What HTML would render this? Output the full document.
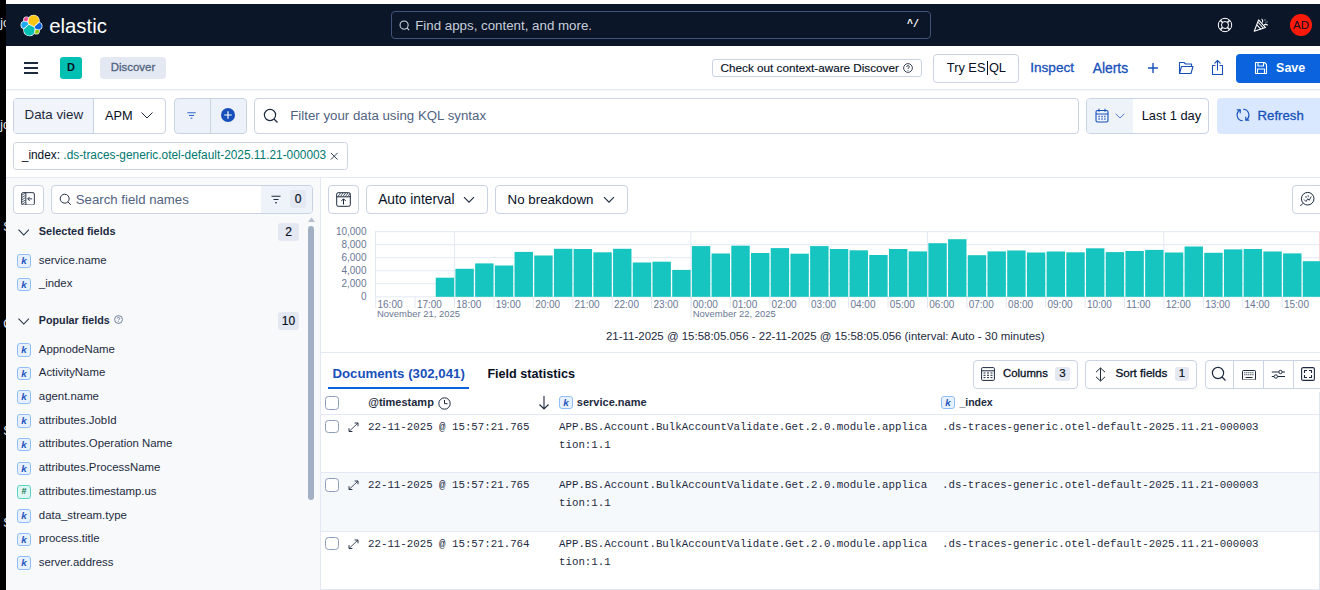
<!DOCTYPE html>
<html>
<head>
<meta charset="utf-8">
<title>Discover - Elastic</title>
<style>
*{box-sizing:border-box;margin:0;padding:0}
html,body{width:1320px;height:590px;overflow:hidden;background:#fff}
body{font-family:"Liberation Sans",sans-serif;color:#1d2a3e;font-size:14px;position:relative}
.abs{position:absolute}
.t{position:absolute;white-space:nowrap;line-height:1}
.box{position:absolute;border:1px solid #cad3e2;border-radius:4px;background:#fff}
.blue{color:#1750ba}
.mono{font-family:"Liberation Mono",monospace;font-size:10.78px;color:#1d2a3e}
.tok{position:absolute;width:14px;height:13.500px;border:1px solid #8fbdf7;border-radius:3px;background:#e8f1ff;color:#2458bd;font-size:9.800px;font-weight:700;font-style:italic;text-align:center;line-height:11px;font-family:"Liberation Sans",sans-serif}
.tok.num{border-color:#5fd1c2;background:#e0f8f4;color:#09724d;font-style:normal;font-family:"Liberation Sans",sans-serif;font-size:9px}
.fld{position:absolute;left:38.800px;font-size:11.400px;color:#1d2a3e;white-space:nowrap;line-height:1}
.badge{position:absolute;background:#e3e8f2;border-radius:3px;font-size:12px;font-weight:400;-webkit-text-stroke:.2px #07101f;color:#07101f;text-align:center}
.cb{position:absolute;width:13.600px;height:13.600px;border:1px solid #8e9db8;border-radius:3.500px;background:#fff}
</style>
</head>
<body>
<!-- frame artefacts -->
<div class="abs" style="left:0;top:0;width:6px;height:590px;background:#000;overflow:hidden;color:#e8f0ff;font-size:12px;line-height:14px">
<div class="t" style="left:.3px;top:16px;line-height:14px">jo</div>
<div class="t" style="left:.3px;top:118px;line-height:14px">jo</div>
<div class="t" style="left:3.300px;top:220px;line-height:14px">S</div>
<div class="t" style="left:3.300px;top:317px;line-height:14px">C</div>
<div class="t" style="left:3.300px;top:424px;line-height:14px">S</div>
<div class="t" style="left:3.300px;top:516px;line-height:14px">S</div>
</div>

<!-- ===== dark header ===== -->
<div class="abs" id="hdr" style="left:6px;top:4px;width:1314px;height:42px;background:#0b1628"></div>
<svg class="abs" style="left:19.500px;top:13.500px" width="23" height="23" viewBox="-0.5 -0.5 33 33">
  <g stroke="#fff" stroke-width="2" stroke-linejoin="round" fill="#fff">
  <path d="M12.580 13.787l7.002 3.211 7.066-6.213a7.849 7.849 0 0 0 .152-1.557c0-4.287-3.467-7.764-7.744-7.764a7.720 7.720 0 0 0-6.400 3.404l-1.176 6.120 1.100 2.799z"/>
  <path d="M5.333 21.228A7.964 7.964 0 0 0 5.181 22.800c0 4.300 3.483 7.786 7.780 7.786 2.580 0 4.987-1.282 6.437-3.418l1.166-6.100-1.556-2.987-7.030-3.216-6.645 6.363z"/>
  <path d="M5.288 9.067l4.800 1.137L11.140 4.740a3.785 3.785 0 0 0-2.290-.770 3.797 3.797 0 0 0-3.560 5.097"/>
  <path d="M4.872 10.214C2.728 10.926 1.230 12.990 1.230 15.260a5.345 5.345 0 0 0 3.400 4.970l6.733-6.110-1.236-2.653-5.255-1.253z"/>
  <path d="M20.873 27.277a3.736 3.736 0 0 0 2.285.785 3.783 3.783 0 0 0 3.553-5.096l-4.796-1.125-1.042 5.436z"/>
  <path d="M21.848 20.563l5.280 1.238c2.145-.712 3.643-2.776 3.643-5.047a5.338 5.338 0 0 0-3.410-4.970l-6.906 6.072 1.393 2.707z"/>
  </g>
  <path fill="#FEC514" d="M12.580 13.787l7.002 3.211 7.066-6.213a7.849 7.849 0 0 0 .152-1.557c0-4.287-3.467-7.764-7.744-7.764a7.720 7.720 0 0 0-6.400 3.404l-1.176 6.120 1.100 2.799z"/>
  <path fill="#00BFB3" d="M5.333 21.228A7.964 7.964 0 0 0 5.181 22.800c0 4.300 3.483 7.786 7.780 7.786 2.580 0 4.987-1.282 6.437-3.418l1.166-6.100-1.556-2.987-7.030-3.216-6.645 6.363z"/>
  <path fill="#F04E98" d="M5.288 9.067l4.800 1.137L11.140 4.740a3.785 3.785 0 0 0-2.290-.770 3.797 3.797 0 0 0-3.560 5.097"/>
  <path fill="#1BA9F5" d="M4.872 10.214C2.728 10.926 1.230 12.990 1.230 15.260a5.345 5.345 0 0 0 3.400 4.970l6.733-6.110-1.236-2.653-5.255-1.253z"/>
  <path fill="#93C90E" d="M20.873 27.277a3.736 3.736 0 0 0 2.285.785 3.783 3.783 0 0 0 3.553-5.096l-4.796-1.125-1.042 5.436z"/>
  <path fill="#0B64DD" d="M21.848 20.563l5.280 1.238c2.145-.712 3.643-2.776 3.643-5.047a5.338 5.338 0 0 0-3.410-4.970l-6.906 6.072 1.393 2.707z"/>
</svg>
<div class="t" id="elastic" style="left:49.2px;top:14px;font-size:20.33px;color:#fff;line-height:24px">elastic</div>

<div class="abs" style="left:391px;top:11px;width:540px;height:27.500px;border:1px solid #40527a;border-radius:4px;background:#0b1628"></div>
<svg class="abs" style="left:398px;top:19px" width="13" height="13" viewBox="0 0 16 16" fill="none" stroke="#d5dbe6" stroke-width="1.300"><circle cx="7.500" cy="7.500" r="5"/><path d="M11.300 11.300l2.400 2.400"/></svg>
<div class="t" id="find" style="left:415.2px;top:18px;font-size:13.32px;color:#c8cfdb;line-height:16px">Find apps, content, and more.</div>
<div class="t" style="left:907px;top:19px;font-size:10px;color:#fff;font-weight:700;line-height:12px;font-family:'Liberation Mono',monospace;letter-spacing:0px">^/</div>

<!-- help -->
<svg class="abs" style="left:1217.200px;top:17px" width="16" height="16" viewBox="0 0 16 16" fill="none" stroke="#fff" stroke-width="1"><circle cx="8" cy="8" r="6.700"/><circle cx="8" cy="8" r="3.500"/><path d="M3.300 3.300l2.200 2.200M10.500 10.500l2.200 2.200M12.700 3.300l-2.200 2.200M5.500 10.500l-2.200 2.200" stroke-width="1.600"/></svg>
<!-- party -->
<svg class="abs" style="left:1253px;top:17px" width="16" height="16" viewBox="0 0 16 16" fill="none" stroke="#fff" stroke-width="1.100" stroke-linejoin="round"><path d="M1.200 14.200L5.600 2.900l6.900 7.700z"/><path d="M3.700 7.800l4.400 4.500M4.800 5l5.500 6"/><path d="M9.500 5.500c.6-1.600.2-2.800-.9-3.600M11 8c1.500-.9 2.800-.7 3.700.4"/><path d="M12 2.500v1M14 4.500v.8M12.500 5.800h.6" stroke-width="1"/></svg>
<!-- avatar -->
<div class="abs" style="left:1290px;top:14px;width:22px;height:22px;border-radius:11px;background:#ff1a0a"></div>
<div class="t" style="left:1290px;top:19px;width:22px;text-align:center;font-size:11.500px;color:#07101f;line-height:12px">AD</div>

<!-- ===== app toolbar row ===== -->
<div class="abs" style="left:6px;top:89px;width:1314px;height:1px;background:#e6eaf2"></div>
<div class="abs" style="left:6px;top:90px;width:1314px;height:1px;background:#f4f6fa"></div>
<div class="abs" style="left:24px;top:62.3px;width:14px;height:1.500px;background:#1d2a3e"></div>
<div class="abs" style="left:24px;top:67.3px;width:14px;height:1.500px;background:#1d2a3e"></div>
<div class="abs" style="left:24px;top:72.3px;width:14px;height:1.500px;background:#1d2a3e"></div>
<div class="abs" style="left:60px;top:57px;width:22px;height:22px;border-radius:3px;background:#00bfb3"></div>
<div class="t" style="left:60px;top:61px;width:22px;text-align:center;font-size:11px;color:#07101f;line-height:12px;font-weight:700">D</div>
<div class="abs" style="left:100px;top:57px;width:66px;height:22px;border-radius:4px;background:#e3e8f2"></div>
<div class="t" id="discover" style="left:100px;top:60px;width:66px;text-align:center;font-size:11.47px;color:#516381;line-height:14px;font-weight:500;-webkit-text-stroke:.3px #516381">Discover</div>

<div class="box" style="left:712px;top:59px;width:210px;height:18px;border-radius:3px;border-color:#cad3e2"></div>
<div class="t" id="ctx" style="left:720.6px;top:61px;font-size:11.71px;color:#07101f;line-height:14px;font-weight:500;-webkit-text-stroke:.15px #07101f">Check out context-aware Discover</div>
<svg class="abs" style="left:903px;top:63px" width="10" height="10" viewBox="0 0 16 16" fill="none" stroke="#1d2a3e" stroke-width="1.400"><circle cx="8" cy="8" r="7"/><path d="M5.800 6.300c0-1.300 1-2.100 2.200-2.100s2.200.8 2.200 2c0 1.700-2.200 1.700-2.200 3.300M8 11.300v1.200"/></svg>

<div class="box" style="left:933px;top:54px;width:86px;height:29px"></div>
<div class="t" id="esql" style="left:946.8px;top:60px;font-size:12.81px;color:#07101f;line-height:16px">Try ES<span style="display:inline-block;width:1.200px;height:14px;background:#07101f;margin:0 1.150px;vertical-align:-2.500px"></span>QL</div>
<div class="t blue" id="inspect" style="left:1030.2px;top:60px;font-size:13.62px;line-height:16px;-webkit-text-stroke:.3px #1750ba">Inspect</div>
<div class="t blue" id="alerts" style="left:1092.7px;top:60px;font-size:13.89px;line-height:16px;-webkit-text-stroke:.3px #1750ba">Alerts</div>
<svg class="abs" style="left:1147px;top:62px" width="12" height="12" viewBox="0 0 12 12" stroke="#1750ba" stroke-width="1.400" fill="none"><path d="M6 1v10M1 6h10"/></svg>
<svg class="abs" style="left:1178px;top:60px" width="16" height="16" viewBox="0 0 16 16" stroke="#1750ba" stroke-width="1.100" fill="none" stroke-linejoin="round"><path d="M1.500 13.500v-11h4.500l1.500 1.500h6v2"/><path d="M1.500 13.500l2-7h11.500l-2 7z"/></svg>
<svg class="abs" style="left:1210px;top:59px" width="15" height="17" viewBox="0 0 15 17" stroke="#1750ba" stroke-width="1.100" fill="none" stroke-linejoin="round" stroke-linecap="round"><path d="M5 6.500H2.500v9h10v-9H10"/><path d="M7.500 11V1.500M4.800 4.200l2.700-2.700 2.700 2.700"/></svg>
<div class="abs" style="left:1236px;top:54px;width:90px;height:29px;border-radius:4px;background:#0b64dd"></div>
<svg class="abs" style="left:1254px;top:61px" width="14" height="14" viewBox="0 0 14 14" stroke="#fff" stroke-width="1.100" fill="none" stroke-linejoin="round"><path d="M1.500 1.500h9l2 2v9h-11z"/><path d="M4 1.500v3.500h5.500v-3.500M3.500 12.500v-4.500h7v4.500"/></svg>
<div class="t" id="save" style="left:1276.1px;top:60px;font-size:12.46px;color:#fff;line-height:16px;font-weight:700">Save</div>

<!-- ===== query bar ===== -->
<div class="box" style="left:13px;top:98px;width:153px;height:36px;background:#fff"></div>
<div class="abs" style="left:14px;top:99px;width:80px;height:34px;background:#f1f4fa;border-right:1px solid #cad3e2;border-radius:3px 0 0 3px"></div>
<div class="t" id="dataview" style="left:24.5px;top:107px;font-size:13.35px;color:#1d2a3e;line-height:16px">Data view</div>
<div class="t" id="apm" style="left:105.1px;top:108px;font-size:12.75px;color:#07101f;line-height:16px">APM</div>
<svg class="abs" style="left:140px;top:111px" width="14" height="9" viewBox="0 0 14 9" stroke="#1d2a3e" stroke-width="1" fill="none"><path d="M1.500 1.500l5.500 5.500 5.500-5.500"/></svg>

<div class="box" style="left:174px;top:98px;width:73px;height:36px;background:#edf1f9"></div>
<div class="abs" style="left:210px;top:99px;width:1px;height:34px;background:#cad3e2"></div>
<svg class="abs" style="left:187px;top:112px" width="9" height="7" viewBox="0 0 9 7" stroke="#2a60c8" stroke-width="1" fill="none"><path d="M.3 .8h8.400M2 3.500h5M3.600 6.200h1.800"/></svg>
<div class="abs" style="left:221.200px;top:108.200px;width:13.600px;height:13.600px;border-radius:7px;background:#1750ba"></div>
<svg class="abs" style="left:221px;top:108px" width="14" height="14" viewBox="0 0 14 14" stroke="#fff" stroke-width="1.150" fill="none"><path d="M7 3.200v7.600M3.200 7h7.600"/></svg>

<div class="box" style="left:254px;top:98px;width:825px;height:36px"></div>
<svg class="abs" style="left:263px;top:108px" width="16" height="16" viewBox="0 0 16 16" fill="none" stroke="#1d2a3e" stroke-width="1.200"><circle cx="7" cy="7" r="5.600"/><path d="M11 11l3.500 3.500"/></svg>
<div class="t" id="kql" style="left:290.2px;top:108px;font-size:13.29px;color:#516381;line-height:16px">Filter your data using KQL syntax</div>

<div class="box" style="left:1086px;top:98px;width:123px;height:36px"></div>
<div class="abs" style="left:1087px;top:99px;width:46px;height:34px;background:#eef2f9;border-radius:3px 0 0 3px"></div>
<svg class="abs" style="left:1095px;top:108px" width="14" height="15" viewBox="0 0 14 15" fill="none" stroke="#1750ba" stroke-width="1.100"><rect x="1" y="2.500" width="12" height="11.500" rx="1.500"/><path d="M1 6h12M4 .8v3M10 .8v3"/><path d="M3.500 8.500h1.200M6.400 8.500h1.200M9.300 8.500h1.200M3.500 11h1.200M6.400 11h1.200M9.300 11h1.200" stroke-width="1.400"/></svg>
<svg class="abs" style="left:1115px;top:113px" width="10" height="6" viewBox="0 0 10 6" stroke="#3f6fcb" stroke-width=".9" fill="none"><path d="M.7 .8l4.300 4.200L9.300 .8"/></svg>
<div class="t" id="last" style="left:1141.7px;top:108px;font-size:12.90px;color:#07101f;line-height:16px">Last 1 day</div>

<div class="abs" style="left:1217px;top:98px;width:110px;height:36px;border-radius:4px;background:#d9e8ff"></div>
<svg class="abs" style="left:1236.300px;top:108.300px" width="14" height="14" viewBox="0 0 14 14" fill="none" stroke="#1750ba" stroke-width="1.150"><path d="M4.200 1.900A5.800 5.800 0 0 0 6.800 12.800"/><path d="M7.200 1.200A5.800 5.800 0 0 1 9.800 12.100"/><path d="M.8 1.900H4.200V5.300M13.200 12.100H9.800V8.700"/></svg>
<div class="t blue" id="refresh" style="left:1257.6px;top:108px;font-size:13.19px;line-height:16px;font-weight:500;-webkit-text-stroke:.3px #1750ba">Refresh</div>

<!-- filter pill -->
<div class="box" style="left:13px;top:141.500px;width:335px;height:28px;border-radius:3.500px"></div>
<div class="t" id="pill" style="left:21.8px;top:148px;font-size:11.86px;line-height:14px;font-weight:500;color:#07101f">_index: <span style="color:#007871">.ds-traces-generic.otel-default-2025.11.21-000003</span></div>
<svg class="abs" style="left:330px;top:151.500px" width="8.500" height="8.500" viewBox="0 0 9 9" stroke="#1d2a3e" stroke-width=".95" fill="none"><path d="M1 1l7 7M8 1l-7 7"/></svg>


<!-- ===== sidebar ===== -->
<div class="abs" style="left:6px;top:177px;width:314px;height:413px;background:#f7f9fb"></div>
<div class="abs" style="left:6px;top:177px;width:1314px;height:1px;background:#e3e8f2"></div>
<div class="abs" style="left:320px;top:177px;width:1px;height:413px;background:#e3e8f2"></div>

<div class="box" style="left:13px;top:185px;width:31px;height:29px"></div>
<svg class="abs" style="left:21px;top:191.700px" width="14" height="13.700" viewBox="0 0 15 15" preserveAspectRatio="none" fill="none" stroke="#1d2a3e" stroke-width="1"><rect x=".7" y=".7" width="13.600" height="13.600" rx="1.500"/><path d="M5.200 .7v13.600"/><path d="M12 7.500H7.300M9.300 5.300L7.200 7.500l2.100 2.200"/><path d="M1 3.500l3.800-2.300M1 6l3.800-2.300M1 8.500l3.800-2.300M1 11l3.800-2.300M1 13.500l3.800-2.300" stroke-width=".8"/></svg>

<div class="box" style="left:51px;top:185px;width:262px;height:29px"></div>
<div class="abs" style="left:261px;top:186px;width:51px;height:27px;background:#eef2f9;border-radius:0 3px 3px 0"></div>
<svg class="abs" style="left:59px;top:193px" width="13" height="13" viewBox="0 0 16 16" fill="none" stroke="#1d2a3e" stroke-width="1.200"><circle cx="7" cy="7" r="5.500"/><path d="M11 11l3.500 3.500"/></svg>
<div class="t" id="sfn" style="left:75.8px;top:192px;font-size:13.21px;color:#516381;line-height:15px">Search field names</div>
<svg class="abs" style="left:271px;top:195px" width="10" height="9" viewBox="0 0 10 9" stroke="#1d2a3e" stroke-width="1.100" fill="none"><path d="M.5 1.200h9M2.500 4.500h5M4 7.800h2"/></svg>
<div class="badge" style="left:290px;top:190px;width:16px;height:18px;line-height:18px;background:#e3e8f2">0</div>

<!-- scrollbar -->
<div class="abs" style="left:308px;top:226px;width:6px;height:274px;border-radius:3px;background:#a3afc2"></div>
<svg class="abs" style="left:308px;top:217px" width="7" height="5" viewBox="0 0 7 5"><path d="M0 5L3.500 .5 7 5z" fill="#b6bfcd"/></svg>

<svg class="abs" style="left:17.600px;top:229px" width="11.500" height="7" viewBox="0 0 11.500 7" stroke="#1d2a3e" stroke-width="1.050" fill="none"><path d="M.5 .6l5.250 5.500L11 .6"/></svg>
<div class="t" id="self" style="left:38.8px;top:224px;font-size:10.96px;font-weight:700;color:#1d2a3e;line-height:14px">Selected fields</div>
<div class="badge" style="left:278px;top:223px;width:21px;height:18px;line-height:18px">2</div>

<svg class="abs" style="left:17.600px;top:318px" width="11.500" height="7" viewBox="0 0 11.500 7" stroke="#1d2a3e" stroke-width="1.050" fill="none"><path d="M.5 .6l5.250 5.500L11 .6"/></svg>
<div class="t" id="popf" style="left:38.800px;top:313px;font-size:10.740px;font-weight:700;color:#1d2a3e;line-height:14px">Popular fields</div>
<svg class="abs" style="left:113.900px;top:315px" width="9" height="9" viewBox="0 0 16 16" fill="none" stroke="#516381" stroke-width="1.400"><circle cx="8" cy="8" r="7"/><path d="M5.800 6.300c0-1.300 1-2.100 2.200-2.100s2.200.8 2.200 2c0 1.700-2.200 1.700-2.200 3.300M8 11.300v1.200"/></svg>
<div class="badge" style="left:278px;top:312px;width:21px;height:18px;line-height:18px">10</div>
<div class="tok" style="left:17px;top:254.10px">k</div><div class="fld" id="f0" style="top:252.65px;line-height:14px">service.name</div>
<div class="tok" style="left:17px;top:277.60px">k</div><div class="fld" id="f1" style="top:276.15px;line-height:14px">_index</div>
<div class="tok" style="left:17px;top:343.00px">k</div><div class="fld" id="f2" style="top:341.55px;line-height:14px">AppnodeName</div>
<div class="tok" style="left:17px;top:366.72px">k</div><div class="fld" id="f3" style="top:365.27px;line-height:14px">ActivityName</div>
<div class="tok" style="left:17px;top:390.44px">k</div><div class="fld" id="f4" style="top:388.99px;line-height:14px">agent.name</div>
<div class="tok" style="left:17px;top:414.16px">k</div><div class="fld" id="f5" style="top:412.71px;line-height:14px">attributes.JobId</div>
<div class="tok" style="left:17px;top:437.88px">k</div><div class="fld" id="f6" style="top:436.43px;line-height:14px">attributes.Operation Name</div>
<div class="tok" style="left:17px;top:461.60px">k</div><div class="fld" id="f7" style="top:460.15px;line-height:14px">attributes.ProcessName</div>
<div class="tok num" style="left:17px;top:485.32px">#</div><div class="fld" id="f8" style="top:483.87px;line-height:14px">attributes.timestamp.us</div>
<div class="tok" style="left:17px;top:509.04px">k</div><div class="fld" id="f9" style="top:507.59px;line-height:14px">data_stream.type</div>
<div class="tok" style="left:17px;top:532.76px">k</div><div class="fld" id="f10" style="top:531.31px;line-height:14px">process.title</div>
<div class="tok" style="left:17px;top:556.48px">k</div><div class="fld" id="f11" style="top:555.03px;line-height:14px">server.address</div>
<!--SIDEBAR_END-->

<!-- ===== main: chart ===== -->
<div class="box" style="left:328px;top:185px;width:31px;height:29px"></div>
<svg class="abs" style="left:336px;top:192px" width="15" height="15" viewBox="0 0 15 15" fill="none" stroke="#1d2a3e" stroke-width="1"><rect x=".7" y=".7" width="13.600" height="13.600" rx="1.500"/><path d="M.7 4.800h13.600"/><path d="M7.500 12.500V7M5.300 9L7.500 6.800 9.700 9"/><path d="M2 4.500l2.500-3.500M4.500 4.500L7 1M7 4.500L9.500 1M9.500 4.500L12 1M12 4.500l2-3" stroke-width=".8"/></svg>
<div class="box" style="left:366px;top:185px;width:122px;height:29px"></div>
<div class="t" id="autoi" style="left:378.2px;top:192px;font-size:13.74px;color:#07101f;line-height:16px">Auto interval</div>
<svg class="abs" style="left:463px;top:196px" width="12" height="8" viewBox="0 0 12 8" stroke="#1d2a3e" stroke-width="1.100" fill="none"><path d="M1 1.200l5 5 5-5"/></svg>
<div class="box" style="left:495px;top:185px;width:133px;height:29px"></div>
<div class="t" id="nobr" style="left:507.5px;top:192px;font-size:13.35px;color:#07101f;line-height:16px">No breakdown</div>
<svg class="abs" style="left:603px;top:196px" width="12" height="8" viewBox="0 0 12 8" stroke="#1d2a3e" stroke-width="1.100" fill="none"><path d="M1 1.200l5 5 5-5"/></svg>
<div class="box" style="left:1292px;top:185px;width:40px;height:29px"></div>
<svg class="abs" style="left:1299px;top:191px" width="16" height="16" viewBox="0 0 16 16" fill="none" stroke="#1d2a3e" stroke-width="1"><circle cx="8.700" cy="7.700" r="6.300"/><path d="M4 12.300L1.300 15"/><path d="M5 8.500l2 2 1.800-2.800 1.400 1.600 2-3.800" stroke-width=".9"/><path d="M7 5v2M9.200 4.200v2" stroke-width=".8"/></svg>
<svg class="abs" style="left:320px;top:220px" width="1000" height="110" viewBox="320 220 1000 110">
<path d="M375 231.70H1320" stroke="#e3e8f2" stroke-width="1" fill="none"/>
<path d="M375 244.72H1320" stroke="#e3e8f2" stroke-width="1" fill="none"/>
<path d="M375 257.74H1320" stroke="#e3e8f2" stroke-width="1" fill="none"/>
<path d="M375 270.76H1320" stroke="#e3e8f2" stroke-width="1" fill="none"/>
<path d="M375 283.78H1320" stroke="#e3e8f2" stroke-width="1" fill="none"/>
<path d="M375 296.80H1320" stroke="#e3e8f2" stroke-width="1" fill="none"/>
<path d="M375.500 231.700V297" stroke="#e3e8f2" stroke-width="1" fill="none"/>
<path d="M454.42 231.700V297" stroke="#e3e8f2" stroke-width="1" fill="none"/>
<path d="M690.90 231.700V297" stroke="#e3e8f2" stroke-width="1" fill="none"/>
<path d="M927.37 231.700V297" stroke="#e3e8f2" stroke-width="1" fill="none"/>
<path d="M1163.84 231.700V297" stroke="#e3e8f2" stroke-width="1" fill="none"/>
<path d="M1319.500 231.700V297" stroke="#fbd5d5" stroke-width="1" fill="none"/>
<rect x="435.72" y="277.70" width="18.4" height="19.10" fill="#16c5c0"/>
<rect x="455.42" y="268.80" width="18.4" height="28.00" fill="#16c5c0"/>
<rect x="475.13" y="263.40" width="18.4" height="33.40" fill="#16c5c0"/>
<rect x="494.84" y="265.50" width="18.4" height="31.30" fill="#16c5c0"/>
<rect x="514.54" y="251.90" width="18.4" height="44.90" fill="#16c5c0"/>
<rect x="534.25" y="255.50" width="18.4" height="41.30" fill="#16c5c0"/>
<rect x="553.95" y="248.80" width="18.4" height="48.00" fill="#16c5c0"/>
<rect x="573.66" y="249.00" width="18.4" height="47.80" fill="#16c5c0"/>
<rect x="593.37" y="252.30" width="18.4" height="44.50" fill="#16c5c0"/>
<rect x="613.07" y="248.80" width="18.4" height="48.00" fill="#16c5c0"/>
<rect x="632.78" y="262.50" width="18.4" height="34.30" fill="#16c5c0"/>
<rect x="652.48" y="261.70" width="18.4" height="35.10" fill="#16c5c0"/>
<rect x="672.19" y="269.90" width="18.4" height="26.90" fill="#16c5c0"/>
<rect x="691.90" y="246.10" width="18.4" height="50.70" fill="#16c5c0"/>
<rect x="711.60" y="253.50" width="18.4" height="43.30" fill="#16c5c0"/>
<rect x="731.31" y="245.70" width="18.4" height="51.10" fill="#16c5c0"/>
<rect x="751.01" y="253.00" width="18.4" height="43.80" fill="#16c5c0"/>
<rect x="770.72" y="248.10" width="18.4" height="48.70" fill="#16c5c0"/>
<rect x="790.43" y="253.70" width="18.4" height="43.10" fill="#16c5c0"/>
<rect x="810.13" y="246.10" width="18.4" height="50.70" fill="#16c5c0"/>
<rect x="829.84" y="249.00" width="18.4" height="47.80" fill="#16c5c0"/>
<rect x="849.54" y="250.30" width="18.4" height="46.50" fill="#16c5c0"/>
<rect x="869.25" y="255.00" width="18.4" height="41.80" fill="#16c5c0"/>
<rect x="888.96" y="249.00" width="18.4" height="47.80" fill="#16c5c0"/>
<rect x="908.66" y="251.40" width="18.4" height="45.40" fill="#16c5c0"/>
<rect x="928.37" y="243.20" width="18.4" height="53.60" fill="#16c5c0"/>
<rect x="948.07" y="239.20" width="18.4" height="57.60" fill="#16c5c0"/>
<rect x="967.78" y="255.20" width="18.4" height="41.60" fill="#16c5c0"/>
<rect x="987.49" y="251.40" width="18.4" height="45.40" fill="#16c5c0"/>
<rect x="1007.19" y="250.50" width="18.4" height="46.30" fill="#16c5c0"/>
<rect x="1026.90" y="252.50" width="18.4" height="44.30" fill="#16c5c0"/>
<rect x="1046.60" y="251.50" width="18.4" height="45.30" fill="#16c5c0"/>
<rect x="1066.31" y="252.30" width="18.4" height="44.50" fill="#16c5c0"/>
<rect x="1086.02" y="248.30" width="18.4" height="48.50" fill="#16c5c0"/>
<rect x="1105.72" y="252.10" width="18.4" height="44.70" fill="#16c5c0"/>
<rect x="1125.43" y="251.00" width="18.4" height="45.80" fill="#16c5c0"/>
<rect x="1145.13" y="249.90" width="18.4" height="46.90" fill="#16c5c0"/>
<rect x="1164.84" y="252.50" width="18.4" height="44.30" fill="#16c5c0"/>
<rect x="1184.55" y="246.50" width="18.4" height="50.30" fill="#16c5c0"/>
<rect x="1204.25" y="252.80" width="18.4" height="44.00" fill="#16c5c0"/>
<rect x="1223.96" y="249.40" width="18.4" height="47.40" fill="#16c5c0"/>
<rect x="1243.66" y="249.00" width="18.4" height="47.80" fill="#16c5c0"/>
<rect x="1263.37" y="251.50" width="18.4" height="45.30" fill="#16c5c0"/>
<rect x="1283.08" y="253.40" width="18.4" height="43.40" fill="#16c5c0"/>
<rect x="1302.78" y="261.20" width="18.4" height="35.60" fill="#16c5c0"/>
<path d="M375.70 297V308" stroke="#e3e8f2" stroke-width="1" fill="none"/>
<text x="377.50" y="308.300" font-size="10" fill="#6a7894" font-family="Liberation Sans, sans-serif">16:00</text>
<path d="M415.11 297V308" stroke="#e3e8f2" stroke-width="1" fill="none"/>
<text x="416.91" y="308.300" font-size="10" fill="#6a7894" font-family="Liberation Sans, sans-serif">17:00</text>
<path d="M454.52 297V308" stroke="#e3e8f2" stroke-width="1" fill="none"/>
<text x="456.32" y="308.300" font-size="10" fill="#6a7894" font-family="Liberation Sans, sans-serif">18:00</text>
<path d="M493.94 297V308" stroke="#e3e8f2" stroke-width="1" fill="none"/>
<text x="495.74" y="308.300" font-size="10" fill="#6a7894" font-family="Liberation Sans, sans-serif">19:00</text>
<path d="M533.35 297V308" stroke="#e3e8f2" stroke-width="1" fill="none"/>
<text x="535.15" y="308.300" font-size="10" fill="#6a7894" font-family="Liberation Sans, sans-serif">20:00</text>
<path d="M572.76 297V308" stroke="#e3e8f2" stroke-width="1" fill="none"/>
<text x="574.56" y="308.300" font-size="10" fill="#6a7894" font-family="Liberation Sans, sans-serif">21:00</text>
<path d="M612.17 297V308" stroke="#e3e8f2" stroke-width="1" fill="none"/>
<text x="613.97" y="308.300" font-size="10" fill="#6a7894" font-family="Liberation Sans, sans-serif">22:00</text>
<path d="M651.58 297V308" stroke="#e3e8f2" stroke-width="1" fill="none"/>
<text x="653.38" y="308.300" font-size="10" fill="#6a7894" font-family="Liberation Sans, sans-serif">23:00</text>
<path d="M691.00 297V308" stroke="#e3e8f2" stroke-width="1" fill="none"/>
<text x="692.80" y="308.300" font-size="10" fill="#6a7894" font-family="Liberation Sans, sans-serif">00:00</text>
<path d="M730.41 297V308" stroke="#e3e8f2" stroke-width="1" fill="none"/>
<text x="732.21" y="308.300" font-size="10" fill="#6a7894" font-family="Liberation Sans, sans-serif">01:00</text>
<path d="M769.82 297V308" stroke="#e3e8f2" stroke-width="1" fill="none"/>
<text x="771.62" y="308.300" font-size="10" fill="#6a7894" font-family="Liberation Sans, sans-serif">02:00</text>
<path d="M809.23 297V308" stroke="#e3e8f2" stroke-width="1" fill="none"/>
<text x="811.03" y="308.300" font-size="10" fill="#6a7894" font-family="Liberation Sans, sans-serif">03:00</text>
<path d="M848.64 297V308" stroke="#e3e8f2" stroke-width="1" fill="none"/>
<text x="850.44" y="308.300" font-size="10" fill="#6a7894" font-family="Liberation Sans, sans-serif">04:00</text>
<path d="M888.06 297V308" stroke="#e3e8f2" stroke-width="1" fill="none"/>
<text x="889.86" y="308.300" font-size="10" fill="#6a7894" font-family="Liberation Sans, sans-serif">05:00</text>
<path d="M927.47 297V308" stroke="#e3e8f2" stroke-width="1" fill="none"/>
<text x="929.27" y="308.300" font-size="10" fill="#6a7894" font-family="Liberation Sans, sans-serif">06:00</text>
<path d="M966.88 297V308" stroke="#e3e8f2" stroke-width="1" fill="none"/>
<text x="968.68" y="308.300" font-size="10" fill="#6a7894" font-family="Liberation Sans, sans-serif">07:00</text>
<path d="M1006.29 297V308" stroke="#e3e8f2" stroke-width="1" fill="none"/>
<text x="1008.09" y="308.300" font-size="10" fill="#6a7894" font-family="Liberation Sans, sans-serif">08:00</text>
<path d="M1045.70 297V308" stroke="#e3e8f2" stroke-width="1" fill="none"/>
<text x="1047.50" y="308.300" font-size="10" fill="#6a7894" font-family="Liberation Sans, sans-serif">09:00</text>
<path d="M1085.12 297V308" stroke="#e3e8f2" stroke-width="1" fill="none"/>
<text x="1086.92" y="308.300" font-size="10" fill="#6a7894" font-family="Liberation Sans, sans-serif">10:00</text>
<path d="M1124.53 297V308" stroke="#e3e8f2" stroke-width="1" fill="none"/>
<text x="1126.33" y="308.300" font-size="10" fill="#6a7894" font-family="Liberation Sans, sans-serif">11:00</text>
<path d="M1163.94 297V308" stroke="#e3e8f2" stroke-width="1" fill="none"/>
<text x="1165.74" y="308.300" font-size="10" fill="#6a7894" font-family="Liberation Sans, sans-serif">12:00</text>
<path d="M1203.35 297V308" stroke="#e3e8f2" stroke-width="1" fill="none"/>
<text x="1205.15" y="308.300" font-size="10" fill="#6a7894" font-family="Liberation Sans, sans-serif">13:00</text>
<path d="M1242.76 297V308" stroke="#e3e8f2" stroke-width="1" fill="none"/>
<text x="1244.56" y="308.300" font-size="10" fill="#6a7894" font-family="Liberation Sans, sans-serif">14:00</text>
<path d="M1282.18 297V308" stroke="#e3e8f2" stroke-width="1" fill="none"/>
<text x="1283.98" y="308.300" font-size="10" fill="#6a7894" font-family="Liberation Sans, sans-serif">15:00</text>
<text x="377" y="316.700" font-size="9.450" fill="#6a7894" font-family="Liberation Sans, sans-serif">November 21, 2025</text>
<path d="M691.00 297V318" stroke="#e3e8f2" stroke-width="1" fill="none"/>
<text x="692.80" y="316.700" font-size="9.450" fill="#6a7894" font-family="Liberation Sans, sans-serif">November 22, 2025</text>
<text x="366.500" y="235.30" text-anchor="end" font-size="10" fill="#6a7894" font-family="Liberation Sans, sans-serif">10,000</text>
<text x="366.500" y="248.32" text-anchor="end" font-size="10" fill="#6a7894" font-family="Liberation Sans, sans-serif">8,000</text>
<text x="366.500" y="261.34" text-anchor="end" font-size="10" fill="#6a7894" font-family="Liberation Sans, sans-serif">6,000</text>
<text x="366.500" y="274.36" text-anchor="end" font-size="10" fill="#6a7894" font-family="Liberation Sans, sans-serif">4,000</text>
<text x="366.500" y="287.38" text-anchor="end" font-size="10" fill="#6a7894" font-family="Liberation Sans, sans-serif">2,000</text>
<text x="366.500" y="300.40" text-anchor="end" font-size="10" fill="#6a7894" font-family="Liberation Sans, sans-serif">0</text>
</svg>
<div class="t" id="range" style="left:606.0px;top:329px;font-size:11.46px;color:#1d2a3e;line-height:14px">21-11-2025 @ 15:58:05.056 - 22-11-2025 @ 15:58:05.056 (interval: Auto - 30 minutes)</div>
<div class="abs" style="left:321px;top:352px;width:999px;height:1px;background:#e3e8f2"></div>

<!-- ===== tabs + table toolbar ===== -->
<div class="t blue" id="tabdoc" style="left:332.4px;top:366px;font-size:13.24px;font-weight:700;line-height:16px;color:#1750ba">Documents (302,041)</div>
<div class="abs" style="left:327.700px;top:387.300px;width:141.200px;height:1.800px;background:#0b64dd"></div>
<div class="t" id="tabfs" style="left:487.4px;top:365.700px;font-size:12.62px;font-weight:700;line-height:16px;color:#07101f">Field statistics</div>

<div class="box" style="left:973px;top:360px;width:105px;height:29px"></div>
<svg class="abs" style="left:981px;top:367px" width="14" height="14" viewBox="0 0 14 14" fill="none" stroke="#1d2a3e" stroke-width="1"><rect x=".6" y=".6" width="12.800" height="12.800" rx="1"/><path d="M.6 3.800h12.800"/><path d="M2.500 6h9M2.500 8.300h9M2.500 10.600h9" stroke-dasharray="2 1.500"/></svg>
<div class="t" id="cols" style="left:1003.1px;top:366px;font-size:11.33px;font-weight:500;line-height:14px;color:#07101f;-webkit-text-stroke:.3px #07101f">Columns</div>
<div class="badge" style="left:1055px;top:367px;width:15px;height:14px;line-height:13px;font-size:11.500px">3</div>
<div class="box" style="left:1085px;top:360px;width:112px;height:29px"></div>
<svg class="abs" style="left:1094.800px;top:366.600px" width="11" height="15" viewBox="0 0 11 15" fill="none" stroke="#1d2a3e" stroke-width="1"><path d="M5.500 1.200v12.600M1 5.200L5.500 .9 10 5.200M1 9.800l4.500 4.300L10 9.800"/></svg>
<div class="t" id="sortf" style="left:1115.4px;top:366px;font-size:11.68px;font-weight:500;line-height:14px;color:#07101f;-webkit-text-stroke:.3px #07101f">Sort fields</div>
<div class="badge" style="left:1175px;top:367px;width:14px;height:14px;line-height:13px;font-size:11.500px">1</div>

<div class="box" style="left:1205px;top:360px;width:130px;height:29px"></div>
<div class="abs" style="left:1233px;top:361px;width:1px;height:27px;background:#cad3e2"></div>
<div class="abs" style="left:1263px;top:361px;width:1px;height:27px;background:#cad3e2"></div>
<div class="abs" style="left:1293px;top:361px;width:1px;height:27px;background:#cad3e2"></div>
<svg class="abs" style="left:1211px;top:366px" width="16" height="16" viewBox="0 0 16 16" fill="none" stroke="#1d2a3e" stroke-width="1.200"><circle cx="7" cy="7" r="5.600"/><path d="M11 11l3.500 3.500"/></svg>
<svg class="abs" style="left:1242px;top:369.500px" width="14" height="10.500" viewBox="0 0 14 10.500" fill="none" stroke="#1d2a3e" stroke-width="1"><rect x=".5" y=".5" width="13" height="9.500" rx=".8"/><path d="M2.300 2.800h9.400M2.300 4.800h9.400" stroke-dasharray="1.100 .9" stroke-width="1.100"/><path d="M3.500 7.500h7"/></svg>
<svg class="abs" style="left:1271px;top:368px" width="15" height="13" viewBox="0 0 15 13" fill="none" stroke="#1d2a3e" stroke-width="1"><path d="M.8 4h7M11.300 4H14M.8 8.500H3M6.500 8.500H14"/><circle cx="9.500" cy="4" r="1.700"/><circle cx="4.800" cy="8.500" r="1.700"/></svg>
<svg class="abs" style="left:1301px;top:367px" width="14" height="14" viewBox="0 0 14 14" fill="none" stroke="#1d2a3e" stroke-width="1.100"><rect x=".6" y=".6" width="12.800" height="12.800" rx="1.500"/><path d="M3.500 6V3.500H6M8 3.500h2.500V6M10.500 8v2.500H8M6 10.500H3.500V8"/></svg>

<!-- ===== table ===== -->
<div class="abs" style="left:321px;top:414px;width:999px;height:1px;background:#e3e8f2"></div>
<div class="abs" style="left:321px;top:472.300px;width:999px;height:58.500px;background:#f6f9fc"></div>
<div class="abs" style="left:321px;top:471.800px;width:999px;height:1px;background:#e3e8f2"></div>
<div class="abs" style="left:321px;top:530.500px;width:999px;height:1px;background:#e3e8f2"></div>
<div class="abs" style="left:321px;top:588.800px;width:999px;height:1px;background:#e3e8f2"></div>
<div class="abs" style="left:1319px;top:392px;width:1px;height:198px;background:#dfe5ef"></div>

<div class="cb" style="left:325.200px;top:396.400px"></div>
<div class="t" id="hts" style="left:368.2px;top:395px;font-size:10.99px;font-weight:700;line-height:14px;color:#1d2a3e">@timestamp</div>
<svg class="abs" style="left:438px;top:396.600px" width="13" height="13" viewBox="0 0 13 13" fill="none" stroke="#1d2a3e" stroke-width="1"><circle cx="6.500" cy="6.500" r="5.700"/><path d="M6.500 3v3.700h3"/></svg>
<svg class="abs" style="left:538px;top:395px" width="12" height="15" viewBox="0 0 12 15" fill="none" stroke="#1d2a3e" stroke-width="1.100"><path d="M6 1v12.500M1.500 9.500L6 14l4.500-4.500"/></svg>
<div class="tok" style="left:559px;top:395.500px">k</div>
<div class="t" id="hsn" style="left:576.8px;top:395px;font-size:11.02px;font-weight:700;line-height:14px;color:#1d2a3e">service.name</div>
<div class="tok" style="left:941px;top:395.500px">k</div>
<div class="t" id="hix" style="left:959.4px;top:395px;font-size:10.51px;font-weight:700;line-height:14px;color:#1d2a3e">_index</div>
<div class="cb" style="left:325.200px;top:419.80px"></div>
<svg class="abs" style="left:348px;top:421.90px" width="11" height="10.500" viewBox="0 0 11 10.500" fill="none" stroke="#1d2a3e" stroke-width=".95"><path d="M1 9.500L10 1" stroke-width=".8"/><path d="M6.600 1H10v3.300M1 6.200v3.300h3.400"/></svg>
<div class="t mono" id="r0a" style="left:368px;top:420px;line-height:14px">22-11-2025 @ 15:57:21.765</div>
<div class="t mono" id="r0b" style="left:559px;top:420px;line-height:14px">APP.BS.Account.BulkAccountValidate.Get.2.0.module.applica</div>
<div class="t mono" id="r0b2" style="left:559px;top:438px;line-height:14px">tion:1.1</div>
<div class="t mono" id="r0c" style="left:942px;top:420px;line-height:14px">.ds-traces-generic.otel-default-2025.11.21-000003</div>
<div class="cb" style="left:325.200px;top:478.30px"></div>
<svg class="abs" style="left:348px;top:480.40px" width="11" height="10.500" viewBox="0 0 11 10.500" fill="none" stroke="#1d2a3e" stroke-width=".95"><path d="M1 9.500L10 1" stroke-width=".8"/><path d="M6.600 1H10v3.300M1 6.200v3.300h3.400"/></svg>
<div class="t mono" id="r1a" style="left:368px;top:478px;line-height:14px">22-11-2025 @ 15:57:21.765</div>
<div class="t mono" id="r1b" style="left:559px;top:478px;line-height:14px">APP.BS.Account.BulkAccountValidate.Get.2.0.module.applica</div>
<div class="t mono" id="r1b2" style="left:559px;top:496px;line-height:14px">tion:1.1</div>
<div class="t mono" id="r1c" style="left:942px;top:478px;line-height:14px">.ds-traces-generic.otel-default-2025.11.21-000003</div>
<div class="cb" style="left:325.200px;top:536.80px"></div>
<svg class="abs" style="left:348px;top:538.90px" width="11" height="10.500" viewBox="0 0 11 10.500" fill="none" stroke="#1d2a3e" stroke-width=".95"><path d="M1 9.500L10 1" stroke-width=".8"/><path d="M6.600 1H10v3.300M1 6.200v3.300h3.400"/></svg>
<div class="t mono" id="r2a" style="left:368px;top:537px;line-height:14px">22-11-2025 @ 15:57:21.764</div>
<div class="t mono" id="r2b" style="left:559px;top:537px;line-height:14px">APP.BS.Account.BulkAccountValidate.Get.2.0.module.applica</div>
<div class="t mono" id="r2b2" style="left:559px;top:555px;line-height:14px">tion:1.1</div>
<div class="t mono" id="r2c" style="left:942px;top:537px;line-height:14px">.ds-traces-generic.otel-default-2025.11.21-000003</div>
<!--MAIN_END-->
</body>
</html>
